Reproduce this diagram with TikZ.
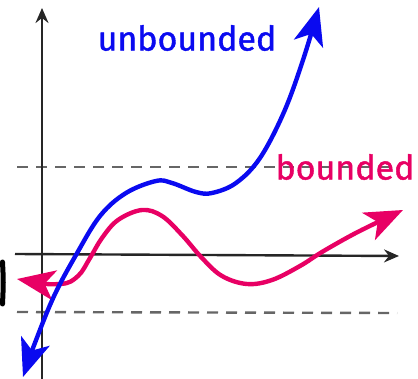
\documentclass[tikz,border=0pt]{standalone}
\usepackage{fontspec}
\setmainfont{Fira Sans}
\newfontfamily\lblfont{Fira Sans}[FakeBold=1.2]
\usetikzlibrary{arrows.meta}
\definecolor{pinkc}{RGB}{232,0,100}
\definecolor{bluec}{RGB}{10,10,240}
\tikzset{
  axis/.style={line width=2.4pt, black!85, -{Stealth[length=15pt,width=13pt,inset=5pt]}},
  guide/.style={line width=2.4pt, black!60, dash pattern=on 11pt off 8pt},
  curve/.style={line width=4.4pt, line cap=round},
  bigtip/.style={{Stealth[length=38pt,width=30pt,inset=10pt]}-{Stealth[length=38pt,width=30pt,inset=10pt]}},
  lbl/.style={font=\lblfont\fontsize{34}{36}\selectfont, inner sep=0pt}
}
\begin{document}
\begin{tikzpicture}[x=1pt,y=-1pt]
\useasboundingbox (0,0) rectangle (418,379);
% dashed guide lines
\coordinate (u1) at (17,167); \coordinate (u2) at (400,167);
\coordinate (l1) at (17,312); \coordinate (l2) at (397,313);
\draw[guide] (u1) -- (u2);
\draw[guide] (l1) -- (l2);
% axes
\coordinate (yb) at (42,379); \coordinate (yt) at (42,8);
\coordinate (xl) at (15,254); \coordinate (xr) at (399,256);
\draw[axis] (yb) -- (yt);
\draw[axis] (xl) -- (xr);
% cut-off mark at left edge
\draw[line width=5pt, line cap=round] (2.5,262) .. controls (3.5,282) .. (2.5,304);
% pink bounded curve
\draw[curve, pinkc, bigtip] plot[smooth, tension=0.6] coordinates {
 (17,279) (60,284) (78,276) (90,258) (102,238) (118,220) (142,210) (162,216)
 (182,235) (202,258) (222,276) (247,284) (272,280) (300,266) (322,252) (352,235) (378,222) (403,210)};
% blue unbounded curve
\draw[curve, bluec, bigtip] plot[smooth, tension=0.6] coordinates {
 (23,377) (38,335) (55,294) (76,255) (100,216) (126,193) (156,181) (172,183)
 (196,192) (212,193) (236,183) (260,158) (284,112) (303,60) (319,7)};
% labels
\node[lbl, text=bluec] (ub) at (187,38) {unbounded};
\node[lbl, text=pinkc] (bd) at (345,167) {bounded};
\end{tikzpicture}
\end{document}
